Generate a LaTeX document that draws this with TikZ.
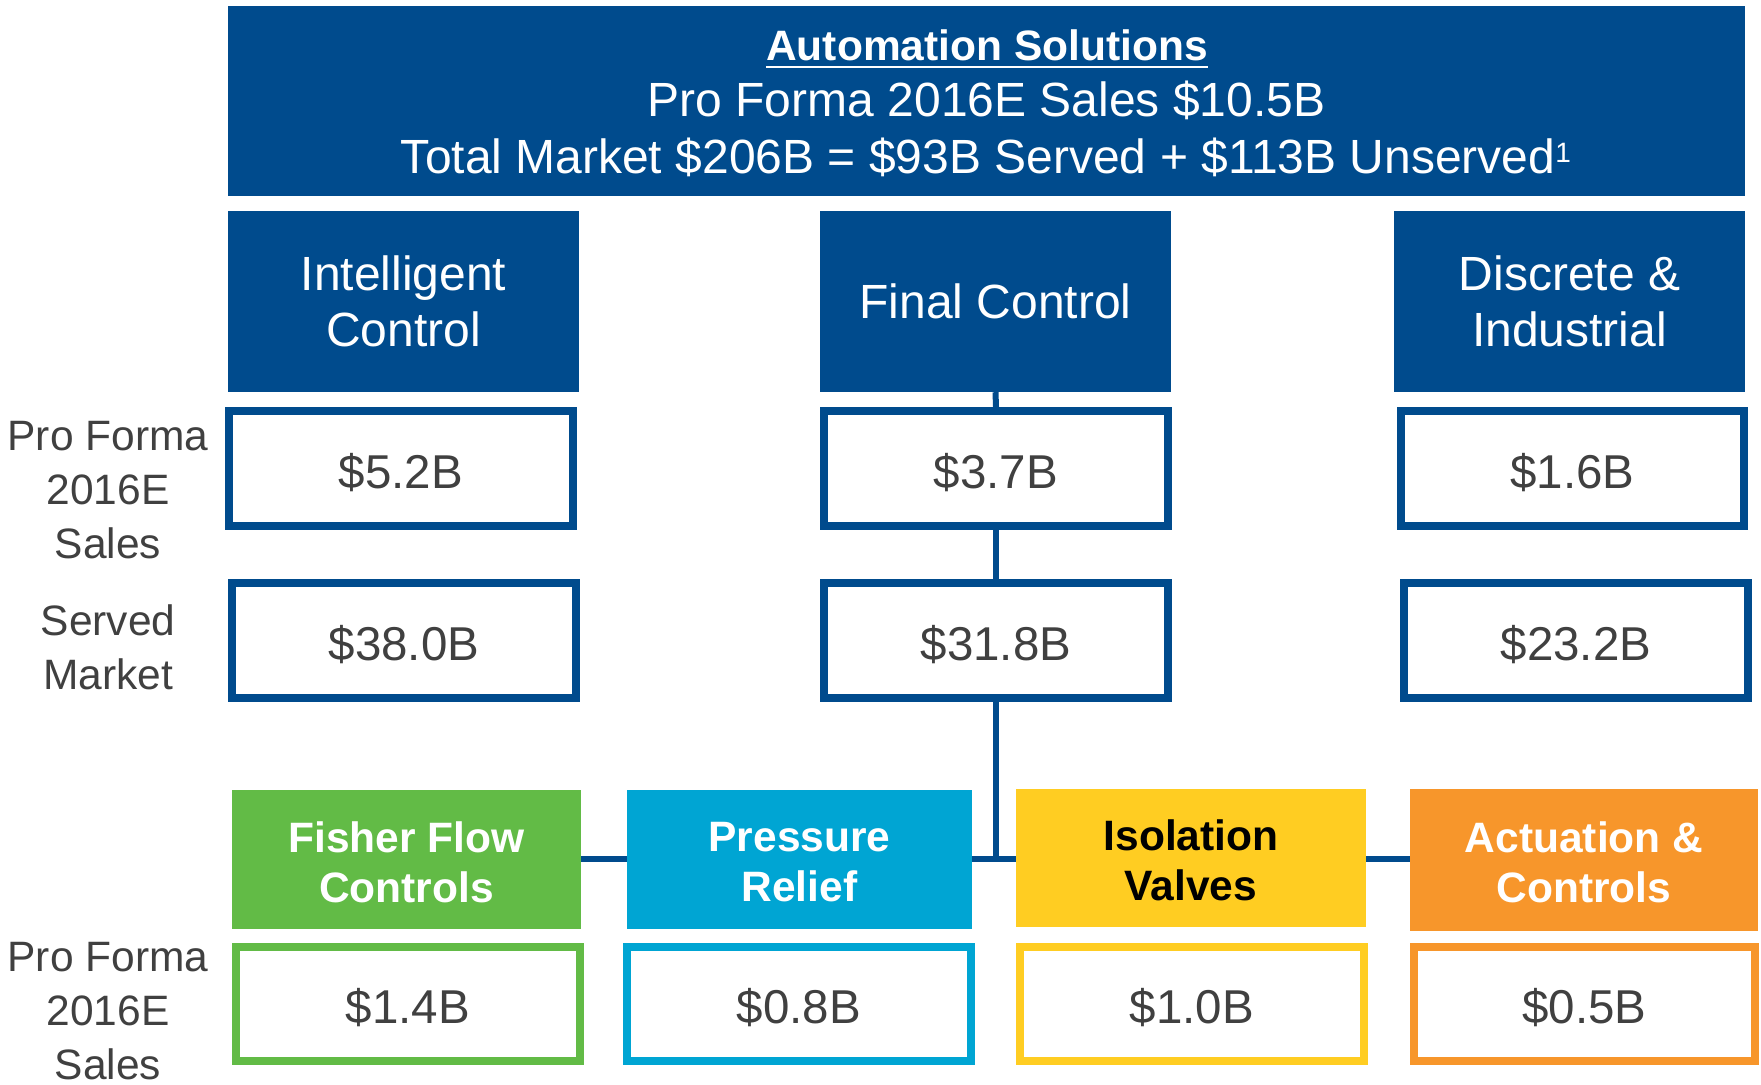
\documentclass[tikz,border=0pt]{standalone}
\usepackage{fontspec}
\setmainfont{Liberation Sans}
\definecolor{navy}{HTML}{004B8D}
\definecolor{ffgreen}{HTML}{62BB46}
\definecolor{prcyan}{HTML}{00A5D3}
\definecolor{ivyellow}{HTML}{FFCD22}
\definecolor{acorange}{HTML}{F7962B}
\definecolor{txtgray}{HTML}{404040}
\begin{document}
\begin{tikzpicture}[x=1pt,y=-1pt,
  hdrbox/.style={fill=navy, draw=none, inner sep=0pt, text=white, align=center,
    font=\fontsize{48}{56}\selectfont},
  valbox/.style={draw=#1, line width=8pt, fill=white, inner sep=0pt, text=txtgray,
    font=\fontsize{47.5}{50}\selectfont, minimum height=115pt,
    text height=39pt, text depth=0pt},
  unitbox/.style={fill=#1, draw=none, inner sep=0pt, text=white, align=center,
    font=\fontsize{42.5}{50}\selectfont\bfseries},
  sidelabel/.style={inner sep=0pt, text=txtgray, align=center,
    font=\fontsize{42.5}{54}\selectfont},
  titletext/.style={inner sep=0pt, text=white, anchor=base},
  conn/.style={draw=navy, line width=6pt}
]
\useasboundingbox (0,0) rectangle (1761,1084);

% banner
\node[fill=navy, inner sep=0pt, minimum width=1517pt, minimum height=190pt] (banner) at (986.5,101) {};
\node[titletext, font=\fontsize{42.5}{50}\selectfont\bfseries] (t1) at (987,60) {Automation Solutions};
\draw[white, line width=2.5pt] ([yshift=-7pt]t1.base west) -- ([yshift=-7pt]t1.base east);
\node[titletext, font=\fontsize{48}{56}\selectfont] (t2) at (986.5,116) {Pro Forma 2016E Sales \$10.5B};
\node[titletext, font=\fontsize{48}{56}\selectfont] (t3) at (986,173) {Total Market \$206B = \$93B Served + \$113B Unserved\raisebox{11pt}{\fontsize{28}{28}\selectfont 1}};

% segment headers
\node[hdrbox, minimum width=351pt, minimum height=181pt] (ich) at (403.5,301.5) {Intelligent\\Control};
\node[hdrbox, minimum width=351pt, minimum height=181pt] (fch) at (995.5,301.5) {Final Control};
\node[hdrbox, minimum width=351pt, minimum height=181pt] (dih) at (1569.5,301.5) {Discrete \&\\Industrial};

% sales row
\node[valbox=navy, minimum width=344pt] (ics) at (401,468.5) {\$5.2B};
\node[valbox=navy, minimum width=344pt] (fcs) at (996,468.5) {\$3.7B};
\node[valbox=navy, minimum width=343pt] (dis) at (1572.5,468.5) {\$1.6B};

% served market row
\node[valbox=navy, minimum width=344pt] (icm) at (404,640.5) {\$38.0B};
\node[valbox=navy, minimum width=344pt] (fcm) at (996,640.5) {\$31.8B};
\node[valbox=navy, minimum width=344pt] (dim) at (1576,640.5) {\$23.2B};

% left labels
\node[sidelabel] (lab1) at (108,490) {Pro Forma\\2016E\\Sales};
\node[sidelabel] (lab2) at (108,647.5) {Served\\Market};
\node[sidelabel] (lab3) at (108,1011) {Pro Forma\\2016E\\Sales};

% connectors (behind the business unit boxes)
\coordinate (jn) at (996,859);
\draw[conn] (fch.south) -- (fcs.north);
\draw[conn] (fcs.south) -- (fcm.north);
\draw[conn] (fcm.south) -- (jn);

% business units
\node[unitbox=ffgreen, minimum width=349pt, minimum height=139pt] (ff) at (406.5,859.5) {};
\node[unitbox=prcyan, minimum width=345pt, minimum height=139pt] (pr) at (799.5,859.5) {};
\node[unitbox=ivyellow, minimum width=350pt, minimum height=138pt] (iv) at (1191,858) {};
\node[unitbox=acorange, minimum width=348pt, minimum height=142pt] (ac) at (1584,860) {};
\node[unitbox=ffgreen, fill=none] (fft) at (406.5,862) {Fisher Flow\\Controls};
\node[unitbox=prcyan, fill=none] (prt) at (799.5,862) {Pressure\\Relief};
\node[unitbox=ivyellow, fill=none, text=black] (ivt) at (1191,860) {Isolation\\Valves};
\node[unitbox=acorange, fill=none] (act) at (1584,862) {Actuation \&\\Controls};

\draw[conn] (ff.east |- jn) -- (pr.west |- jn);
\draw[conn] (pr.east |- jn) -- (iv.west |- jn);
\draw[conn] (iv.east |- jn) -- (ac.west |- jn);

% business unit sales
\node[valbox=ffgreen, minimum width=344pt, minimum height=114pt] (ffs) at (408,1004) {\$1.4B};
\node[valbox=prcyan, minimum width=344pt, minimum height=114pt] (prs) at (799,1004) {\$0.8B};
\node[valbox=ivyellow, minimum width=344pt, minimum height=114pt] (ivs) at (1192,1004) {\$1.0B};
\node[valbox=acorange, minimum width=341pt, minimum height=114pt] (acs) at (1584.5,1004) {\$0.5B};
\end{tikzpicture}
\end{document}
